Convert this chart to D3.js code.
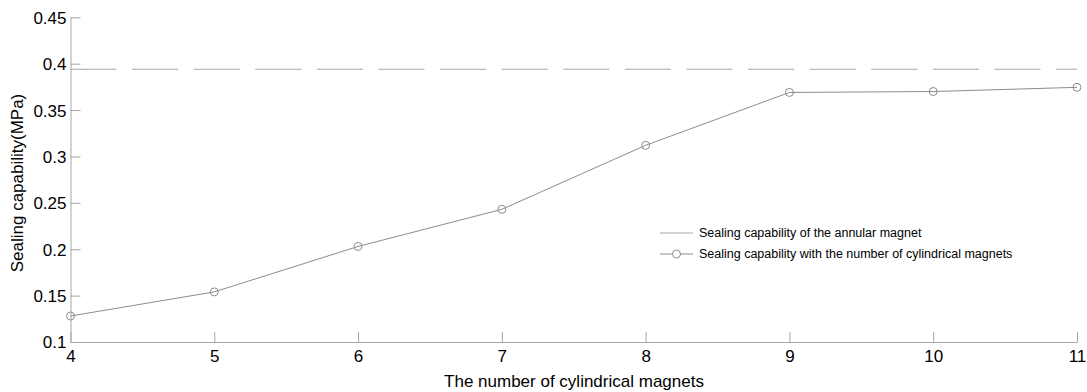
<!DOCTYPE html>
<html>
<head>
<meta charset="utf-8">
<script src="https://cdn.jsdelivr.net/npm/d3@7"></script>
<style>
  html, body { margin: 0; padding: 0; background: #fff; }
  svg { display: block; font-family: "Liberation Sans", Arial, Helvetica, sans-serif; }
</style>
</head>
<body>
<svg id="chart" width="1087" height="392"></svg>
<script>
// Number of cylindrical magnets (x categories)
const magnetCounts = [4, 5, 6, 7, 8, 9, 10, 11];
// Sealing capability with cylindrical magnets (MPa)
const cylindricalSealing = [0.128, 0.154, 0.203, 0.243, 0.312, 0.369, 0.370, 0.3745];
// Sealing capability of the annular magnet (MPa), constant reference
const annularSealing = 0.394;
// Axis ticks
const xTicks = [4, 5, 6, 7, 8, 9, 10, 11];
const yTicks = [0.1, 0.15, 0.2, 0.25, 0.3, 0.35, 0.4, 0.45];
const legendLabels = [
  "Sealing capability of the annular magnet",
  "Sealing capability with the number of cylindrical magnets"
];

const svg = d3.select("#chart");
const margin = { left: 70.5, top: 17.3 };

const x = d3.scaleLinear().domain([4, 11]).range([margin.left, 1077]);
const y = d3.scaleLinear().domain([0.1, 0.45]).range([342, margin.top]);

const axisColor = "#a6a6a6";
const lineColor = "#8c8c8c";

// Left axis with inward ticks
const yAxis = d3.axisLeft(y).tickValues(yTicks).tickSizeInner(-10).tickSizeOuter(0)
  .tickPadding(14).tickFormat(d => d3.format("")(+d.toFixed(2)));
const gy = svg.append("g").attr("transform", `translate(${margin.left},0)`).call(yAxis);
gy.select(".domain").attr("stroke", axisColor);
gy.selectAll(".tick line").attr("stroke", axisColor);
gy.selectAll(".tick text").attr("fill", "#000").attr("font-size", 17).attr("x", -4).attr("dy", "0.35em");

// Bottom axis with inward ticks
const xAxis = d3.axisBottom(x).tickValues(xTicks).tickSizeInner(-10).tickSizeOuter(0)
  .tickPadding(14).tickFormat(d3.format("d"));
const gx = svg.append("g").attr("transform", `translate(0,342)`).call(xAxis);
gx.select(".domain").attr("stroke", axisColor);
gx.selectAll(".tick line").attr("stroke", axisColor);
gx.selectAll(".tick text").attr("fill", "#000").attr("font-size", 17).attr("y", 8).attr("dy", "0.71em");

// Annular magnet reference line (dashed)
svg.append("line")
  .attr("x1", x(4)).attr("x2", x(11))
  .attr("y1", y(annularSealing)).attr("y2", y(annularSealing))
  .attr("stroke", axisColor).attr("stroke-width", 1.2)
  .attr("stroke-dasharray", "46,15.6");

// Cylindrical magnet series
const pts = magnetCounts.map((m, i) => [m, cylindricalSealing[i]]);
svg.append("path")
  .datum(pts)
  .attr("fill", "none")
  .attr("stroke", lineColor)
  .attr("stroke-width", 1)
  .attr("d", d3.line().x(d => x(d[0])).y(d => y(d[1])));

svg.append("g").selectAll("circle").data(pts).join("circle")
  .attr("cx", d => x(d[0])).attr("cy", d => y(d[1])).attr("r", 4)
  .attr("fill", "none").attr("stroke", lineColor).attr("stroke-width", 1);

// Axis titles
svg.append("text")
  .attr("x", 574).attr("y", 387)
  .attr("text-anchor", "middle").attr("font-size", 17).attr("fill", "#000")
  .text("The number of cylindrical magnets");

svg.append("text")
  .attr("transform", `translate(23,183) rotate(-90)`)
  .attr("text-anchor", "middle").attr("font-size", 17).attr("fill", "#000")
  .text("Sealing capability(MPa)");

// Legend
const legend = svg.append("g").attr("transform", "translate(660,233)");
legend.append("line").attr("x1", 0).attr("x2", 33).attr("y1", 0).attr("y2", 0)
  .attr("stroke", axisColor).attr("stroke-width", 1);
legend.append("line").attr("x1", 0).attr("x2", 33).attr("y1", 21).attr("y2", 21)
  .attr("stroke", lineColor).attr("stroke-width", 1);
legend.append("circle").attr("cx", 16.5).attr("cy", 21).attr("r", 4)
  .attr("fill", "#fff").attr("stroke", lineColor);
legend.selectAll("text.lbl").data(legendLabels).join("text")
  .attr("class", "lbl")
  .attr("x", 39).attr("y", (d, i) => i * 21).attr("dy", "0.35em")
  .attr("font-size", 12.5).attr("fill", "#000")
  .text(d => d);
</script>
</body>
</html>
